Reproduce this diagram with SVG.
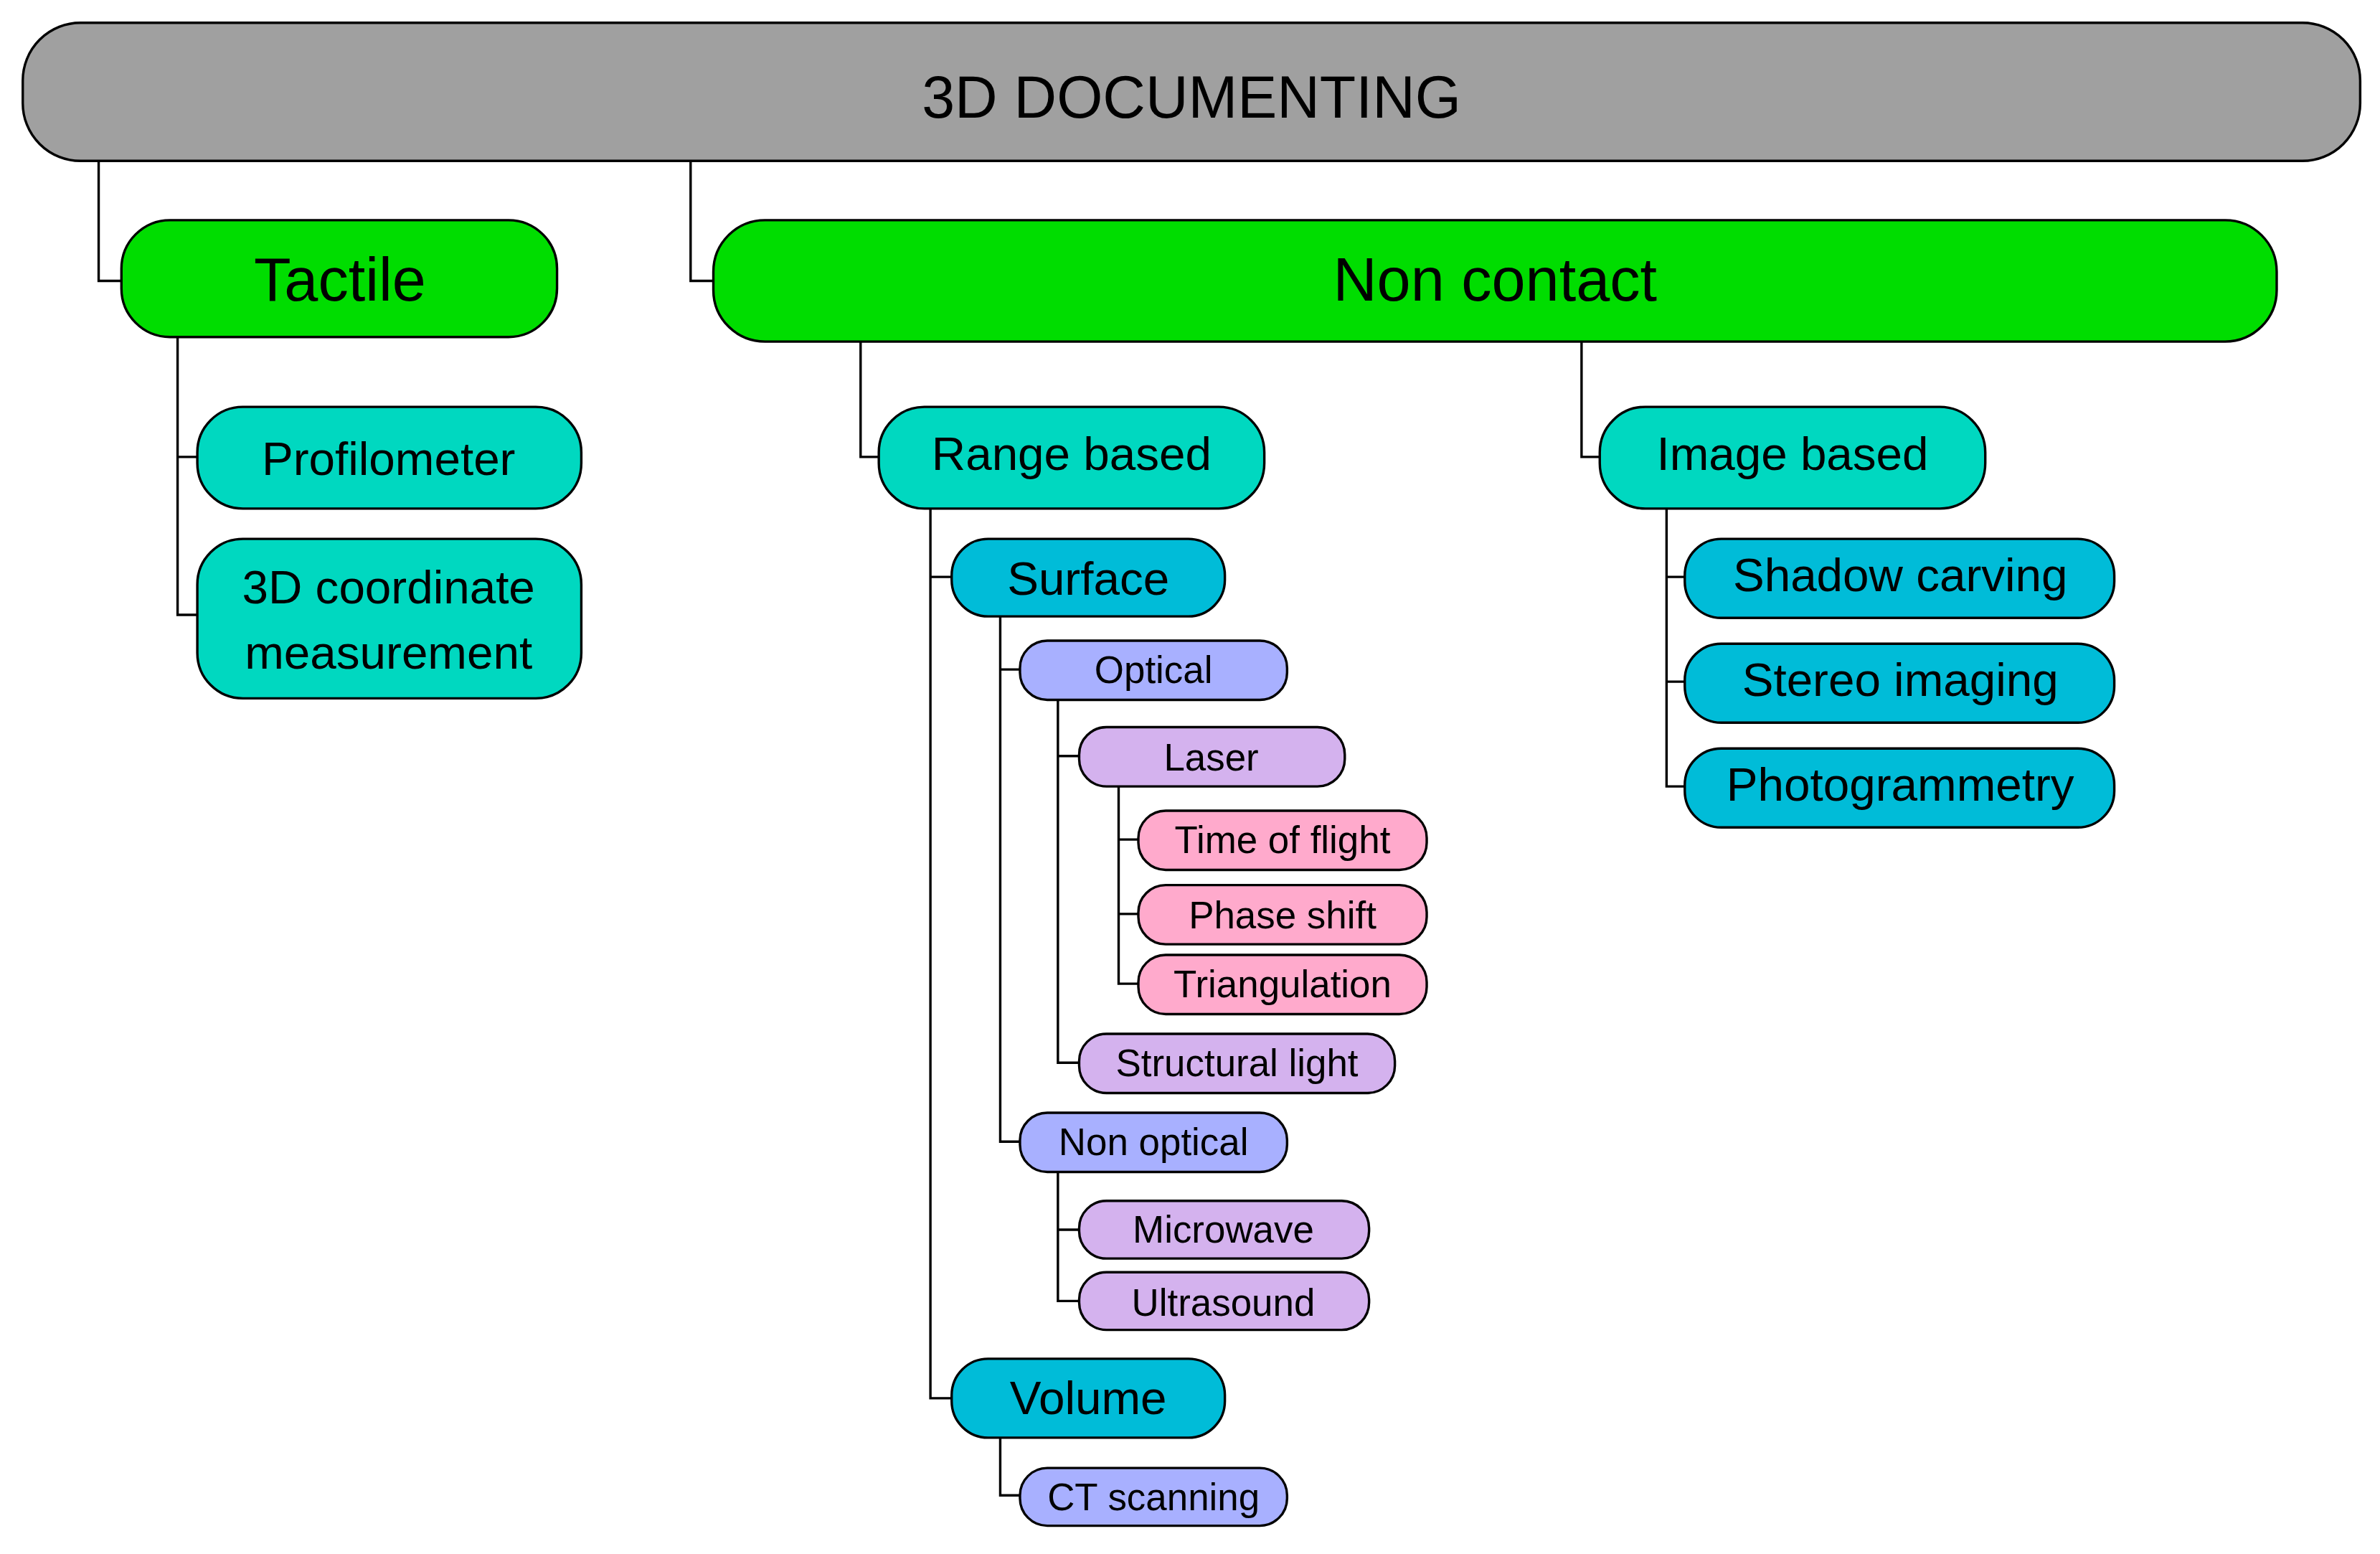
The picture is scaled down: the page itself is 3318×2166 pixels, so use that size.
<svg xmlns="http://www.w3.org/2000/svg" width="3318" height="2166" viewBox="0 0 3318 2166">
<style>
.n{stroke:#000;stroke-width:1.6}
.c{fill:none;stroke:#000;stroke-width:1.6}
text{font-family:"Liberation Sans",Arial,sans-serif;text-anchor:middle;dominant-baseline:central;fill:#000}
.g{fill:#a0a0a0}.gr{fill:#00dd00}.t{fill:#00d8c0}.cy{fill:#00bcd8}.op{fill:#a8b0ff}.la{fill:#d4b2ee}.pk{fill:#ffaacc}
.f1{font-size:39px}.f2{font-size:40px}.f3{font-size:31px}.f4{font-size:25px}
</style>
<rect width="3318" height="2166" fill="#fff"/>
<g transform="scale(2.116)">
<g id="connectors">
<path class="c" d="M65 106V185H80M455 106V185H470"/>
<path class="c" d="M117 222V405H130M117 301H130"/>
<path class="c" d="M567 225V301H579M1042 225V301H1054"/>
<path class="c" d="M613 335V921H627M613 380H627"/>
<path class="c" d="M659 406V752H672M659 441H672"/>
<path class="c" d="M697 461V700H711M697 498H711"/>
<path class="c" d="M737 518V648H750M737 553H750M737 602H750"/>
<path class="c" d="M697 772V857H711M697 810H711"/>
<path class="c" d="M659 947V985H672"/>
<path class="c" d="M1098 335V518H1110M1098 380H1110M1098 449H1110"/>
</g>
<g id="root"><rect class="n g" x="15" y="15" width="1540" height="91" rx="38"/><text class="f1" x="785" y="64">3D DOCUMENTING</text></g>
<g id="tactile"><rect class="n gr" x="80" y="145" width="287" height="77" rx="32"/><text class="f2" x="224" y="184">Tactile</text></g>
<g id="noncontact"><rect class="n gr" x="470" y="145" width="1030" height="80" rx="34"/><text class="f2" x="985" y="184">Non contact</text></g>
<g id="profilometer"><rect class="n t" x="130" y="268" width="253" height="67" rx="30"/><text class="f3" x="256" y="302">Profilometer</text></g>
<g id="coord"><rect class="n t" x="130" y="355" width="253" height="105" rx="30"/><text class="f3" x="256" y="387">3D coordinate</text><text class="f3" x="256" y="430">measurement</text></g>
<g id="range"><rect class="n t" x="579" y="268" width="254" height="67" rx="30"/><text class="f3" x="706" y="299">Range based</text></g>
<g id="image"><rect class="n t" x="1054" y="268" width="254" height="67" rx="30"/><text class="f3" x="1181" y="299">Image based</text></g>
<g id="surface"><rect class="n cy" x="627" y="355" width="180" height="51" rx="24"/><text class="f3" x="717" y="381">Surface</text></g>
<g id="volume"><rect class="n cy" x="627" y="895" width="180" height="52" rx="24"/><text class="f3" x="717" y="921">Volume</text></g>
<g id="optical"><rect class="n op" x="672" y="422" width="176" height="39" rx="18"/><text class="f4" x="760" y="441">Optical</text></g>
<g id="nonoptical"><rect class="n op" x="672" y="733" width="176" height="39" rx="18"/><text class="f4" x="760" y="752">Non optical</text></g>
<g id="ct"><rect class="n op" x="672" y="967" width="176" height="38" rx="18"/><text class="f4" x="760" y="986">CT scanning</text></g>
<g id="laser"><rect class="n la" x="711" y="479" width="175" height="39" rx="18"/><text class="f4" x="798" y="499">Laser</text></g>
<g id="structural"><rect class="n la" x="711" y="681" width="208" height="39" rx="18"/><text class="f4" x="815" y="700">Structural light</text></g>
<g id="microwave"><rect class="n la" x="711" y="791" width="191" height="38" rx="18"/><text class="f4" x="806" y="810">Microwave</text></g>
<g id="ultrasound"><rect class="n la" x="711" y="838" width="191" height="38" rx="18"/><text class="f4" x="806" y="858">Ultrasound</text></g>
<g id="tof"><rect class="n pk" x="750" y="534" width="190" height="39" rx="18"/><text class="f4" x="845" y="553">Time of flight</text></g>
<g id="phase"><rect class="n pk" x="750" y="583" width="190" height="39" rx="18"/><text class="f4" x="845" y="603">Phase shift</text></g>
<g id="tri"><rect class="n pk" x="750" y="629" width="190" height="39" rx="18"/><text class="f4" x="845" y="648">Triangulation</text></g>
<g id="shadow"><rect class="n cy" x="1110" y="355" width="283" height="52" rx="24"/><text class="f3" x="1252" y="379">Shadow carving</text></g>
<g id="stereo"><rect class="n cy" x="1110" y="424" width="283" height="52" rx="24"/><text class="f3" x="1252" y="448">Stereo imaging</text></g>
<g id="photo"><rect class="n cy" x="1110" y="493" width="283" height="52" rx="24"/><text class="f3" x="1252" y="517">Photogrammetry</text></g>
</g>
</svg>
